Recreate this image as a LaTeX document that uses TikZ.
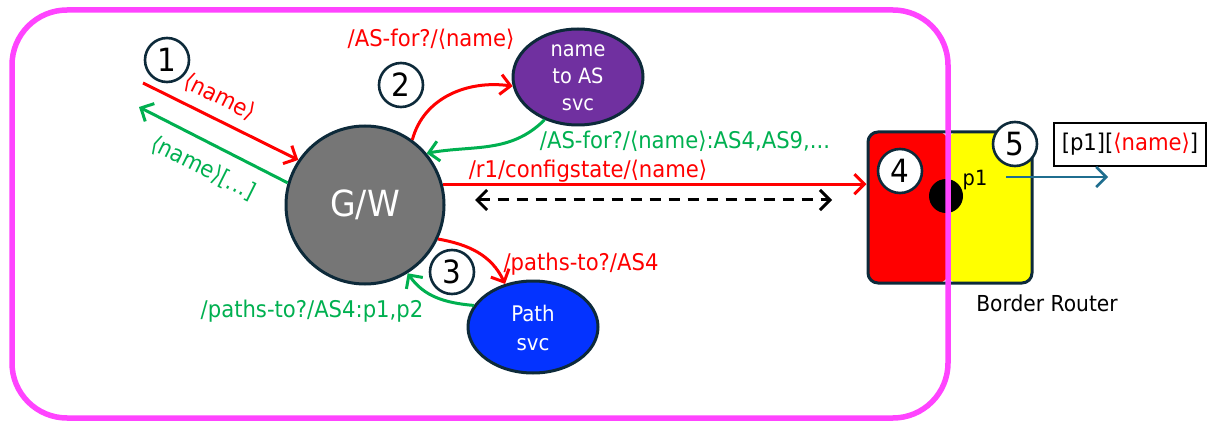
\documentclass[tikz,border=0pt]{standalone}
\usepackage{fontspec}
\setmainfont{DejaVu Sans}[FakeStretch=0.92]
\usetikzlibrary{arrows.meta,shapes.geometric}
\definecolor{navy}{HTML}{0D2A3A}
\definecolor{gwgray}{HTML}{767676}
\definecolor{purp}{HTML}{7030A0}
\definecolor{pblue}{HTML}{0433FF}
\definecolor{grn}{HTML}{00B050}
\definecolor{tealc}{HTML}{1F6E8F}
\definecolor{pinkc}{HTML}{FF44FF}
\definecolor{redc}{HTML}{FF0000}
\definecolor{yel}{HTML}{FFFF00}
\begin{document}
\begin{tikzpicture}[x=1pt,y=1pt,
  lbl/.style={font=\fontsize{23}{25}\selectfont, inner sep=0pt},
  numc/.style={circle, draw=navy, fill=white, line width=2.6pt, minimum size=44pt, inner sep=0pt, font=\fontsize{32}{32}\selectfont},
  barb/.tip={Straight Barb[length=10pt,width=20pt]},
  arr/.style={line width=3pt, -barb},
  svc/.style={ellipse, draw=navy, line width=3pt, inner sep=0pt},
  svctext/.style={text=white, align=center, inner sep=0pt}
]
\useasboundingbox (0,0) rectangle (1207,-422);

% main nodes
\node[circle, minimum size=158pt, inner sep=0pt, fill=gwgray, draw=navy, line width=3pt,
      text=white, font=\fontsize{36}{36}\selectfont] (gw) at (365,-205) {G/W};
\node[svc, fill=purp, minimum width=130pt, minimum height=96pt] (nm) at (578,-77) {};
\node[svctext, font=\fontsize{21}{27}\selectfont] (nmt) at (578,-78) {name\\to AS\\svc};
\node[svc, fill=pblue, minimum width=130pt, minimum height=92pt] (ps) at (533,-327) {};
\node[svctext, font=\fontsize{21.5}{29}\selectfont] (pst) at (533,-328) {Path\\svc};

% border router
\node[rectangle, rounded corners=10pt, minimum width=164pt, minimum height=151pt, draw=navy, line width=3pt,
  path picture={
    \fill[redc] (path picture bounding box.north west) rectangle ([xshift=-2pt]path picture bounding box.south);
    \fill[yel] ([xshift=-2pt]path picture bounding box.north) rectangle (path picture bounding box.south east);
  }] (br) at (950,-207.5) {};
\node[circle, fill=black, minimum size=34pt, inner sep=0pt] (dot) at (946,-196) {};
\node[font=\fontsize{21}{21}\selectfont, inner sep=0pt] (p1) at (975,-180) {p1};
\node[font=\fontsize{22}{24}\selectfont, inner sep=0pt] (brl) at (1047,-303) {Border Router};
\node[draw=black, line width=1.2pt, minimum width=152pt, minimum height=43pt, inner sep=0pt,
      font=\fontsize{23}{25}\selectfont] (hdr) at (1130,-144.5) {[p1][\textcolor{redc}{⟨name⟩}]};
\coordinate (ts) at (1006,-177);
\coordinate (te) at (1108,-177);
\draw[arr, tealc, line width=2.6pt] (ts) -- (te);

% numbers
\node[numc] (n1) at (167,-60) {1};
\node[numc] (n2) at (401,-85) {2};
\node[numc] (n3) at (452,-272) {3};
\node[numc] (n4) at (900,-171) {4};
\node[numc] (n5) at (1015,-144) {5};

% step 1
\coordinate (a1s) at (143,-83);
\coordinate (a1e) at (139,-107);
\draw[arr, redc] (a1s) -- (gw.146);
\draw[arr, grn] (gw.164) -- (a1e);
\node[lbl, text=redc, rotate=-26.5] (l1) at (220,-97) {⟨name⟩};
\node[lbl, text=grn, rotate=-26.5] (l2) at (203,-168) {⟨name⟩[...]};

% step 2
\draw[arr, redc] (gw.54) to[out=75, in=172] (nm.188);
\draw[arr, grn] (nm.232) to[out=225, in=10] (gw.40);
\node[lbl, text=redc] (l3) at (431,-39) {/AS-for?/⟨name⟩};
\node[lbl, text=grn] (l4) at (685,-141) {/AS-for?/⟨name⟩:AS4,AS9,...};

% step 4
\draw[arr, redc] (gw.15) -- (gw.15 -| br.west);
\node[lbl, text=redc] (l5) at (588,-171) {/r1/configstate/⟨name⟩};
\coordinate (d1) at (475,-200);
\coordinate (d2) at (832,-200);
\draw[line width=3pt, dash pattern=on 11pt off 8pt, barb-barb] (d1) -- (d2);

% step 3
\draw[arr, redc] (gw.335) to[out=-10, in=115] (ps.123);
\draw[arr, grn] (ps.160) to[out=175, in=-55] (gw.302);
\node[lbl, text=redc] (l6) at (581,-264) {/paths-to?/AS4};
\node[lbl, text=grn] (l7) at (312,-311) {/paths-to?/AS4:p1,p2};

% frame
\node[draw=pinkc, line width=5.5pt, rounded corners=55pt, minimum width=936pt, minimum height=408pt, inner sep=0pt] (frame) at (480,-214) {};
\end{tikzpicture}
\end{document}
